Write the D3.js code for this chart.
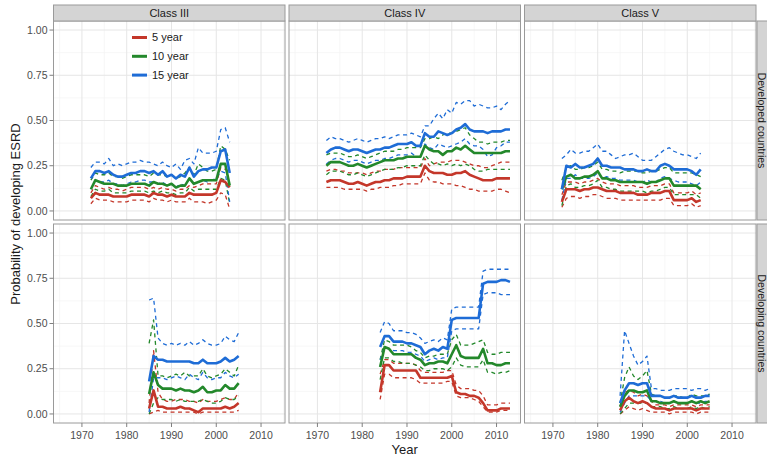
<!DOCTYPE html>
<html>
<head>
<meta charset="utf-8">
<script src="https://cdn.jsdelivr.net/npm/d3@7"></script>
<style>
  body { margin: 0; background: #fff; }
  svg { display: block; font-family: "Liberation Sans", Arial, sans-serif; }
</style>
</head>
<body>
<div id="chart"></div>
<script>
// facets and series
var classes = ["Class III", "Class IV", "Class V"];
var regions = ["Developed countries", "Developing countries"];
var horizons = ["5 year", "10 year", "15 year"];
var xTicks = [1970, 1980, 1990, 2000, 2010];
var yTicks = [0, 0.25, 0.5, 0.75, 1];
var yTickLabels = ["0.00", "0.25", "0.50", "0.75", "1.00"];
// first year of each panel, [row][col]
var startYears = [[1972, 1972, 1972], [1985, 1984, 1985]];

// ---- Class III, developed (1972-2003)
var c3dev_m5 = [0.07,0.10,0.09,0.09,0.09,0.08,0.08,0.08,0.08,0.09, 0.09,0.09,0.09,0.08,0.10,0.09,0.09,0.08,0.09,0.08, 0.08,0.08,0.10,0.09,0.09,0.09,0.09,0.09,0.10,0.17, 0.16,0.13];
var c3dev_hi5 = [0.10,0.14,0.13,0.12,0.13,0.12,0.12,0.11,0.12,0.13, 0.13,0.13,0.13,0.12,0.13,0.12,0.13,0.12,0.12,0.11, 0.12,0.12,0.14,0.13,0.14,0.15,0.15,0.15,0.15,0.24, 0.23,0.22];
var c3dev_lo5 = [0.04,0.07,0.06,0.06,0.06,0.05,0.05,0.05,0.05,0.06, 0.06,0.06,0.06,0.05,0.07,0.06,0.06,0.05,0.06,0.05, 0.05,0.05,0.07,0.05,0.05,0.05,0.04,0.05,0.06,0.10, 0.09,0.01];
var c3dev_m10 = [0.12,0.17,0.16,0.15,0.15,0.15,0.14,0.14,0.14,0.15, 0.15,0.15,0.15,0.14,0.16,0.15,0.15,0.14,0.15,0.13, 0.14,0.14,0.18,0.15,0.16,0.17,0.17,0.17,0.17,0.26, 0.26,0.14];
var c3dev_hi10 = [0.17,0.21,0.20,0.20,0.21,0.19,0.19,0.18,0.19,0.20, 0.20,0.20,0.20,0.19,0.21,0.20,0.20,0.19,0.20,0.18, 0.19,0.21,0.24,0.20,0.26,0.24,0.22,0.22,0.23,0.36, 0.34,0.28];
var c3dev_lo10 = [0.08,0.12,0.11,0.11,0.12,0.10,0.10,0.10,0.10,0.11, 0.11,0.11,0.11,0.10,0.11,0.10,0.11,0.10,0.10,0.09, 0.10,0.10,0.13,0.11,0.12,0.12,0.12,0.12,0.12,0.18, 0.17,0.04];
var c3dev_m15 = [0.18,0.22,0.22,0.21,0.22,0.20,0.19,0.19,0.20,0.21, 0.21,0.22,0.22,0.21,0.22,0.20,0.22,0.19,0.20,0.18, 0.20,0.19,0.24,0.19,0.22,0.23,0.23,0.24,0.24,0.33, 0.34,0.21];
var c3dev_hi15 = [0.24,0.27,0.27,0.26,0.29,0.25,0.26,0.25,0.26,0.27, 0.27,0.28,0.27,0.27,0.26,0.25,0.27,0.25,0.24,0.26, 0.23,0.28,0.29,0.26,0.35,0.32,0.32,0.32,0.33,0.45, 0.46,0.38];
var c3dev_lo15 = [0.12,0.17,0.16,0.16,0.17,0.15,0.15,0.14,0.15,0.16, 0.16,0.17,0.17,0.16,0.16,0.15,0.16,0.14,0.15,0.13, 0.15,0.14,0.18,0.15,0.16,0.17,0.16,0.17,0.18,0.22, 0.21,0.05];

// ---- Class IV, developed (1972-2013)
var c4dev_m5 = [0.16,0.17,0.17,0.17,0.16,0.15,0.15,0.16,0.15,0.14, 0.15,0.16,0.16,0.17,0.17,0.18,0.18,0.18,0.19,0.19, 0.19,0.19,0.25,0.22,0.21,0.21,0.21,0.20,0.20,0.21, 0.21,0.22,0.20,0.19,0.18,0.17,0.17,0.17,0.18,0.18, 0.18,0.18];
var c4dev_hi5 = [0.22,0.23,0.23,0.22,0.22,0.21,0.21,0.21,0.21,0.20, 0.21,0.22,0.22,0.23,0.23,0.23,0.24,0.24,0.24,0.24, 0.24,0.24,0.29,0.25,0.26,0.27,0.27,0.27,0.28,0.28, 0.28,0.27,0.26,0.25,0.25,0.24,0.24,0.25,0.26,0.27, 0.27,0.27];
var c4dev_lo5 = [0.13,0.13,0.13,0.13,0.12,0.12,0.12,0.12,0.12,0.11, 0.12,0.12,0.13,0.13,0.13,0.14,0.14,0.15,0.15,0.15, 0.15,0.15,0.21,0.17,0.16,0.16,0.15,0.15,0.15,0.14, 0.14,0.13,0.12,0.12,0.11,0.11,0.11,0.11,0.12,0.12, 0.11,0.10];
var c4dev_m10 = [0.25,0.27,0.27,0.27,0.26,0.25,0.25,0.26,0.25,0.24, 0.25,0.26,0.27,0.28,0.28,0.28,0.29,0.29,0.30,0.30, 0.30,0.30,0.36,0.34,0.33,0.33,0.31,0.33,0.33,0.35, 0.34,0.36,0.34,0.32,0.32,0.32,0.32,0.32,0.32,0.32, 0.33,0.33];
var c4dev_hi10 = [0.31,0.32,0.32,0.32,0.31,0.30,0.30,0.31,0.30,0.29, 0.30,0.31,0.32,0.33,0.33,0.33,0.34,0.34,0.35,0.35, 0.35,0.35,0.40,0.40,0.41,0.40,0.42,0.43,0.43,0.44, 0.45,0.46,0.42,0.40,0.38,0.38,0.37,0.38,0.38,0.38, 0.39,0.39];
var c4dev_lo10 = [0.20,0.22,0.22,0.22,0.21,0.20,0.20,0.21,0.20,0.19, 0.20,0.21,0.22,0.23,0.23,0.23,0.24,0.24,0.25,0.25, 0.25,0.25,0.31,0.28,0.26,0.26,0.25,0.26,0.25,0.26, 0.25,0.26,0.25,0.23,0.22,0.22,0.23,0.23,0.23,0.23, 0.23,0.23];
var c4dev_m15 = [0.32,0.34,0.35,0.35,0.34,0.33,0.34,0.34,0.33,0.32, 0.33,0.34,0.34,0.35,0.35,0.36,0.37,0.37,0.37,0.38, 0.36,0.36,0.43,0.41,0.41,0.44,0.43,0.42,0.43,0.45, 0.46,0.48,0.45,0.44,0.44,0.44,0.43,0.44,0.44,0.44, 0.45,0.45];
var c4dev_hi15 = [0.39,0.41,0.40,0.40,0.39,0.38,0.39,0.40,0.39,0.38, 0.39,0.40,0.40,0.41,0.40,0.41,0.42,0.42,0.42,0.43, 0.42,0.41,0.47,0.47,0.51,0.54,0.51,0.56,0.54,0.60, 0.59,0.61,0.61,0.58,0.59,0.58,0.57,0.57,0.58,0.56, 0.59,0.61];
var c4dev_lo15 = [0.26,0.28,0.29,0.29,0.28,0.27,0.28,0.28,0.27,0.26, 0.27,0.28,0.28,0.29,0.29,0.30,0.31,0.31,0.31,0.32, 0.30,0.30,0.37,0.35,0.34,0.37,0.36,0.35,0.36,0.37, 0.38,0.40,0.37,0.36,0.36,0.34,0.30,0.31,0.35,0.36, 0.38,0.38];

// ---- Class V, developed (1972-2003)
var c5dev_m5 = [0.05,0.12,0.12,0.12,0.11,0.12,0.12,0.13,0.13,0.12, 0.11,0.11,0.11,0.10,0.10,0.10,0.10,0.09,0.09,0.09, 0.10,0.10,0.10,0.11,0.11,0.06,0.06,0.06,0.06,0.07, 0.05,0.06];
var c5dev_hi5 = [0.09,0.16,0.16,0.16,0.15,0.16,0.16,0.17,0.18,0.16, 0.15,0.15,0.15,0.14,0.14,0.14,0.14,0.13,0.13,0.13, 0.14,0.14,0.14,0.15,0.15,0.10,0.10,0.10,0.10,0.11, 0.09,0.10];
var c5dev_lo5 = [0.02,0.07,0.08,0.08,0.07,0.08,0.08,0.09,0.09,0.08, 0.07,0.07,0.07,0.06,0.06,0.06,0.06,0.06,0.06,0.06, 0.06,0.06,0.06,0.07,0.07,0.03,0.03,0.03,0.03,0.04, 0.02,0.03];
var c5dev_m10 = [0.12,0.19,0.20,0.18,0.18,0.19,0.19,0.20,0.22,0.18, 0.18,0.17,0.17,0.16,0.16,0.16,0.16,0.16,0.16,0.15, 0.16,0.16,0.17,0.18,0.18,0.14,0.14,0.14,0.14,0.14, 0.14,0.12];
var c5dev_hi10 = [0.17,0.24,0.25,0.23,0.23,0.24,0.24,0.25,0.27,0.23, 0.23,0.22,0.22,0.21,0.22,0.22,0.22,0.22,0.21,0.21, 0.22,0.22,0.23,0.24,0.24,0.21,0.21,0.21,0.21,0.21, 0.20,0.19];
var c5dev_lo10 = [0.03,0.14,0.15,0.13,0.13,0.14,0.14,0.15,0.17,0.13, 0.13,0.12,0.12,0.11,0.11,0.11,0.11,0.11,0.11,0.10, 0.11,0.11,0.12,0.13,0.13,0.09,0.09,0.09,0.09,0.09, 0.09,0.07];
var c5dev_m15 = [0.12,0.25,0.24,0.26,0.24,0.24,0.25,0.26,0.29,0.25, 0.25,0.24,0.24,0.24,0.23,0.23,0.23,0.22,0.22,0.23, 0.22,0.22,0.25,0.26,0.25,0.23,0.23,0.23,0.23,0.22, 0.20,0.23];
var c5dev_hi15 = [0.29,0.31,0.34,0.32,0.32,0.33,0.33,0.35,0.37,0.33, 0.33,0.31,0.29,0.30,0.31,0.31,0.32,0.30,0.28,0.28, 0.28,0.30,0.32,0.34,0.35,0.33,0.32,0.31,0.31,0.30, 0.29,0.32];
var c5dev_lo15 = [0.06,0.18,0.18,0.20,0.18,0.18,0.18,0.19,0.21,0.18, 0.19,0.18,0.18,0.17,0.17,0.17,0.17,0.16,0.16,0.17, 0.16,0.16,0.18,0.19,0.18,0.17,0.16,0.16,0.16,0.15, 0.14,0.16];

// ---- Class III, developing (1985-2005)
var c3dvg_m5 = [0.03,0.13,0.04,0.04,0.03,0.03,0.03,0.04,0.03,0.03, 0.02,0.01,0.03,0.03,0.03,0.03,0.03,0.04,0.03,0.04, 0.06];
var c3dvg_hi5 = [0.06,0.35,0.12,0.08,0.07,0.07,0.08,0.08,0.08,0.07, 0.07,0.06,0.08,0.07,0.07,0.07,0.08,0.09,0.08,0.08, 0.12];
var c3dvg_lo5 = [0.00,0.01,0.02,0.01,0.01,0.01,0.01,0.01,0.01,0.01, 0.01,0.00,0.01,0.01,0.01,0.01,0.01,0.01,0.01,0.01, 0.02];
var c3dvg_m10 = [0.11,0.23,0.16,0.14,0.14,0.14,0.13,0.14,0.13,0.13, 0.12,0.13,0.15,0.12,0.12,0.13,0.13,0.16,0.14,0.14, 0.17];
var c3dvg_hi10 = [0.39,0.52,0.21,0.21,0.20,0.21,0.22,0.21,0.23,0.21, 0.21,0.21,0.25,0.21,0.20,0.21,0.22,0.25,0.23,0.21, 0.27];
var c3dvg_lo10 = [0.00,0.06,0.09,0.08,0.08,0.08,0.07,0.08,0.07,0.07, 0.07,0.07,0.08,0.07,0.06,0.06,0.07,0.09,0.08,0.08, 0.10];
var c3dvg_m15 = [0.18,0.32,0.30,0.30,0.29,0.29,0.29,0.29,0.29,0.29, 0.28,0.28,0.30,0.28,0.28,0.28,0.29,0.31,0.29,0.30, 0.32];
var c3dvg_hi15 = [0.63,0.64,0.42,0.39,0.38,0.39,0.38,0.39,0.38,0.40, 0.38,0.39,0.41,0.39,0.38,0.38,0.39,0.43,0.41,0.40, 0.45];
var c3dvg_lo15 = [0.01,0.20,0.20,0.20,0.19,0.20,0.21,0.20,0.19,0.22, 0.20,0.19,0.23,0.20,0.19,0.20,0.20,0.23,0.21,0.20, 0.22];

// ---- Class IV, developing (1984-2013)
var c4dvg_m5 = [0.12,0.27,0.27,0.24,0.24,0.24,0.24,0.24,0.24,0.20, 0.20,0.20,0.20,0.20,0.20,0.20,0.21,0.12,0.11,0.11, 0.10,0.10,0.09,0.06,0.02,0.02,0.02,0.03,0.03,0.03];
var c4dvg_hi5 = [0.22,0.30,0.30,0.28,0.28,0.28,0.28,0.28,0.27,0.24, 0.23,0.23,0.23,0.23,0.23,0.24,0.24,0.16,0.14,0.14, 0.14,0.13,0.13,0.10,0.05,0.05,0.05,0.06,0.06,0.06];
var c4dvg_lo5 = [0.08,0.22,0.22,0.20,0.20,0.20,0.20,0.20,0.19,0.17, 0.17,0.17,0.17,0.17,0.17,0.18,0.18,0.10,0.09,0.09, 0.09,0.08,0.07,0.04,0.01,0.01,0.01,0.02,0.02,0.02];
var c4dvg_m10 = [0.26,0.37,0.36,0.33,0.33,0.33,0.33,0.33,0.31,0.30, 0.27,0.28,0.28,0.29,0.29,0.28,0.33,0.38,0.32,0.31, 0.31,0.31,0.31,0.36,0.28,0.28,0.27,0.27,0.28,0.28];
var c4dvg_hi10 = [0.30,0.41,0.40,0.38,0.38,0.38,0.38,0.37,0.35,0.34, 0.31,0.32,0.32,0.33,0.33,0.33,0.41,0.44,0.38,0.38, 0.38,0.39,0.40,0.41,0.34,0.33,0.33,0.34,0.34,0.34];
var c4dvg_lo10 = [0.19,0.31,0.31,0.29,0.29,0.28,0.28,0.28,0.27,0.26, 0.24,0.24,0.25,0.25,0.25,0.24,0.26,0.31,0.27,0.26, 0.26,0.26,0.26,0.30,0.23,0.23,0.22,0.23,0.23,0.24];
var c4dvg_m15 = [0.37,0.43,0.43,0.40,0.40,0.40,0.39,0.39,0.38,0.37, 0.33,0.35,0.36,0.35,0.37,0.36,0.52,0.53,0.53,0.53, 0.53,0.53,0.53,0.72,0.73,0.73,0.73,0.74,0.74,0.73];
var c4dvg_hi15 = [0.45,0.51,0.50,0.46,0.46,0.46,0.45,0.45,0.44,0.42, 0.39,0.40,0.41,0.40,0.42,0.41,0.58,0.59,0.59,0.59, 0.59,0.59,0.59,0.79,0.80,0.80,0.80,0.80,0.80,0.80];
var c4dvg_lo15 = [0.30,0.37,0.36,0.35,0.35,0.35,0.34,0.34,0.33,0.32, 0.29,0.30,0.31,0.30,0.31,0.31,0.46,0.47,0.47,0.47, 0.47,0.47,0.47,0.66,0.67,0.67,0.67,0.66,0.66,0.66];

// ---- Class V, developing (1985-2005)
var c5dvg_m5 = [0.02,0.07,0.09,0.07,0.06,0.07,0.06,0.04,0.03,0.03, 0.03,0.02,0.03,0.03,0.03,0.03,0.03,0.02,0.03,0.03, 0.03];
var c5dvg_hi5 = [0.04,0.12,0.13,0.12,0.10,0.11,0.10,0.07,0.05,0.05, 0.05,0.04,0.05,0.05,0.05,0.05,0.05,0.04,0.05,0.05, 0.05];
var c5dvg_lo5 = [0.00,0.02,0.04,0.03,0.02,0.03,0.02,0.01,0.01,0.01, 0.01,0.00,0.01,0.01,0.01,0.01,0.01,0.00,0.01,0.01, 0.01];
var c5dvg_m10 = [0.04,0.10,0.13,0.13,0.12,0.12,0.13,0.07,0.07,0.06, 0.06,0.06,0.07,0.06,0.06,0.06,0.07,0.06,0.07,0.06, 0.07];
var c5dvg_hi10 = [0.06,0.20,0.26,0.21,0.19,0.21,0.24,0.11,0.10,0.10, 0.09,0.09,0.10,0.10,0.09,0.09,0.11,0.10,0.10,0.10, 0.11];
var c5dvg_lo10 = [0.00,0.03,0.06,0.06,0.06,0.06,0.06,0.04,0.04,0.04, 0.03,0.03,0.04,0.03,0.03,0.03,0.04,0.03,0.04,0.03, 0.04];
var c5dvg_m15 = [0.06,0.13,0.17,0.17,0.16,0.17,0.17,0.10,0.10,0.10, 0.09,0.09,0.10,0.09,0.09,0.09,0.10,0.09,0.09,0.10, 0.10];
var c5dvg_hi15 = [0.10,0.46,0.39,0.32,0.27,0.29,0.32,0.14,0.14,0.13, 0.13,0.13,0.14,0.14,0.14,0.14,0.13,0.14,0.14,0.13, 0.14];
var c5dvg_lo15 = [0.01,0.06,0.10,0.10,0.10,0.10,0.10,0.07,0.07,0.07, 0.06,0.06,0.07,0.06,0.06,0.06,0.07,0.06,0.06,0.07, 0.07];

// [row][col] -> [horizon] -> [lower, mean, upper]
var panelData = [
  [
    [[c3dev_lo5, c3dev_m5, c3dev_hi5], [c3dev_lo10, c3dev_m10, c3dev_hi10], [c3dev_lo15, c3dev_m15, c3dev_hi15]],
    [[c4dev_lo5, c4dev_m5, c4dev_hi5], [c4dev_lo10, c4dev_m10, c4dev_hi10], [c4dev_lo15, c4dev_m15, c4dev_hi15]],
    [[c5dev_lo5, c5dev_m5, c5dev_hi5], [c5dev_lo10, c5dev_m10, c5dev_hi10], [c5dev_lo15, c5dev_m15, c5dev_hi15]]
  ],
  [
    [[c3dvg_lo5, c3dvg_m5, c3dvg_hi5], [c3dvg_lo10, c3dvg_m10, c3dvg_hi10], [c3dvg_lo15, c3dvg_m15, c3dvg_hi15]],
    [[c4dvg_lo5, c4dvg_m5, c4dvg_hi5], [c4dvg_lo10, c4dvg_m10, c4dvg_hi10], [c4dvg_lo15, c4dvg_m15, c4dvg_hi15]],
    [[c5dvg_lo5, c5dvg_m5, c5dvg_hi5], [c5dvg_lo10, c5dvg_m10, c5dvg_hi10], [c5dvg_lo15, c5dvg_m15, c5dvg_hi15]]
  ]
];

var colors = ["#C4372A", "#23882B", "#1E6CD6"];

// layout
var svgWidth = 767, svgHeight = 458;
var panelLeft = [53.5, 289, 524.5];
var panelTop = [21, 224];
var panelW = 231.5, panelH = 199;
var stripTop = 5, stripH = 16;

var svg = d3.select("#chart").append("svg")
  .attr("width", svgWidth)
  .attr("height", svgHeight);

var xScale = d3.scaleLinear().domain([1963.65, 2015.35]).range([0, panelW]);
var yScale = d3.scaleLinear().domain([-0.05, 1.05]).range([panelH, 0]);

var line = d3.line()
  .x(d => xScale(d.year))
  .y(d => yScale(d.value));

panelData.forEach(function(rowData, r) {
  rowData.forEach(function(cell, c) {
    var g = svg.append("g")
      .attr("transform", `translate(${panelLeft[c]}, ${panelTop[r]})`);

    g.append("rect")
      .attr("width", panelW).attr("height", panelH)
      .attr("fill", "#fff");

    // minor grid
    var minorX = [1965, 1975, 1985, 1995, 2005, 2015];
    var minorY = [0.125, 0.375, 0.625, 0.875];
    g.selectAll(".minx").data(minorX).enter().append("line")
      .attr("x1", d => xScale(d)).attr("x2", d => xScale(d))
      .attr("y1", 0).attr("y2", panelH)
      .attr("stroke", "#F3F3F3").attr("stroke-width", 0.7);
    g.selectAll(".miny").data(minorY).enter().append("line")
      .attr("x1", 0).attr("x2", panelW)
      .attr("y1", d => yScale(d)).attr("y2", d => yScale(d))
      .attr("stroke", "#F3F3F3").attr("stroke-width", 0.7);

    // major grid
    g.selectAll(".majx").data(xTicks).enter().append("line")
      .attr("x1", d => xScale(d)).attr("x2", d => xScale(d))
      .attr("y1", 0).attr("y2", panelH)
      .attr("stroke", "#E6E6E6").attr("stroke-width", 1);
    g.selectAll(".majy").data(yTicks).enter().append("line")
      .attr("x1", 0).attr("x2", panelW)
      .attr("y1", d => yScale(d)).attr("y2", d => yScale(d))
      .attr("stroke", "#E6E6E6").attr("stroke-width", 1);

    var start = startYears[r][c];
    var series = [];
    cell.forEach(function(bands, h) {
      bands.forEach(function(vals, k) {
        series.push({
          h: h,
          solid: k === 1,
          pts: vals.map((v, i) => ({ year: start + i, value: v }))
        });
      });
    });

    // dashed bounds first, then the means on top
    var dashed = series.filter(s => !s.solid);
    var solid = series.filter(s => s.solid);

    g.selectAll(".bound").data(dashed).enter().append("path")
      .attr("d", d => line(d.pts))
      .attr("fill", "none")
      .attr("stroke", d => colors[d.h])
      .attr("stroke-width", 1.3)
      .attr("stroke-dasharray", "4,3.5")
      .attr("stroke-linejoin", "round");

    g.selectAll(".mean").data(solid).enter().append("path")
      .attr("d", d => line(d.pts))
      .attr("fill", "none")
      .attr("stroke", d => colors[d.h])
      .attr("stroke-width", 2.6)
      .attr("stroke-linejoin", "round")
      .attr("stroke-linecap", "butt");

    g.append("rect")
      .attr("width", panelW).attr("height", panelH)
      .attr("fill", "none").attr("stroke", "#9A9A9A").attr("stroke-width", 1);

    // y axis on first column
    if (c === 0) {
      g.selectAll(".yt").data(yTicks).enter().append("line")
        .attr("x1", -4).attr("x2", 0)
        .attr("y1", d => yScale(d)).attr("y2", d => yScale(d))
        .attr("stroke", "#7F7F7F");
      g.selectAll(".yl").data(yTicks).enter().append("text")
        .attr("x", -6).attr("y", d => yScale(d)).attr("dy", "0.35em")
        .attr("text-anchor", "end")
        .attr("font-size", "10.5px").attr("fill", "#4D4D4D")
        .text((d, i) => yTickLabels[i]);
    }

    // x axis on bottom row
    if (r === 1) {
      g.selectAll(".xt").data(xTicks).enter().append("line")
        .attr("x1", d => xScale(d)).attr("x2", d => xScale(d))
        .attr("y1", panelH).attr("y2", panelH + 4)
        .attr("stroke", "#7F7F7F");
      g.selectAll(".xl").data(xTicks).enter().append("text")
        .attr("x", d => xScale(d)).attr("y", panelH + 12).attr("dy", "0.35em")
        .attr("text-anchor", "middle")
        .attr("font-size", "10.5px").attr("fill", "#4D4D4D")
        .text(d => d);
    }

    // column strips on top row
    if (r === 0) {
      svg.append("rect")
        .attr("x", panelLeft[c]).attr("y", stripTop)
        .attr("width", panelW).attr("height", stripH)
        .attr("fill", "#D4D4D4").attr("stroke", "#9A9A9A");
      svg.append("text")
        .attr("x", panelLeft[c] + panelW / 2).attr("y", stripTop + stripH / 2)
        .attr("dy", "0.35em").attr("text-anchor", "middle")
        .attr("font-size", "11px").attr("fill", "#1A1A1A")
        .text(classes[c]);
    }

    // row strips on right column (partly cut by the frame edge, as in the original)
    if (c === 2) {
      var sx = panelLeft[c] + panelW + 1;
      svg.append("rect")
        .attr("x", sx).attr("y", panelTop[r])
        .attr("width", stripH).attr("height", panelH)
        .attr("fill", "#D4D4D4").attr("stroke", "#9A9A9A");
      svg.append("text")
        .attr("transform", `translate(${sx + 4.8}, ${panelTop[r] + panelH / 2}) rotate(90)`)
        .attr("dy", "0.35em").attr("text-anchor", "middle")
        .attr("font-size", "10.5px").attr("fill", "#1A1A1A")
        .text(regions[r]);
    }
  });
});

// legend inside first panel
var legend = svg.append("g")
  .attr("transform", `translate(${panelLeft[0]}, ${panelTop[0]})`);
horizons.forEach(function(lab, i) {
  var ly = 16.5 + i * 18.8;
  legend.append("line")
    .attr("x1", 78.5).attr("x2", 93.5)
    .attr("y1", ly).attr("y2", ly)
    .attr("stroke", colors[i]).attr("stroke-width", 3);
  legend.append("text")
    .attr("x", 98.5).attr("y", ly).attr("dy", "0.35em")
    .attr("font-size", "11px").attr("fill", "#1A1A1A")
    .text(lab);
});

// axis titles
svg.append("text")
  .attr("x", panelLeft[1] + panelW / 2).attr("y", 449).attr("dy", "0.35em")
  .attr("text-anchor", "middle").attr("font-size", "13px").attr("fill", "#1A1A1A")
  .text("Year");

svg.append("text")
  .attr("transform", `translate(15, ${(stripTop + panelTop[1] + panelH) / 2}) rotate(-90)`)
  .attr("dy", "0.35em").attr("text-anchor", "middle")
  .attr("font-size", "13px").attr("fill", "#1A1A1A")
  .text("Probability of developing ESRD");
</script>
</body>
</html>
